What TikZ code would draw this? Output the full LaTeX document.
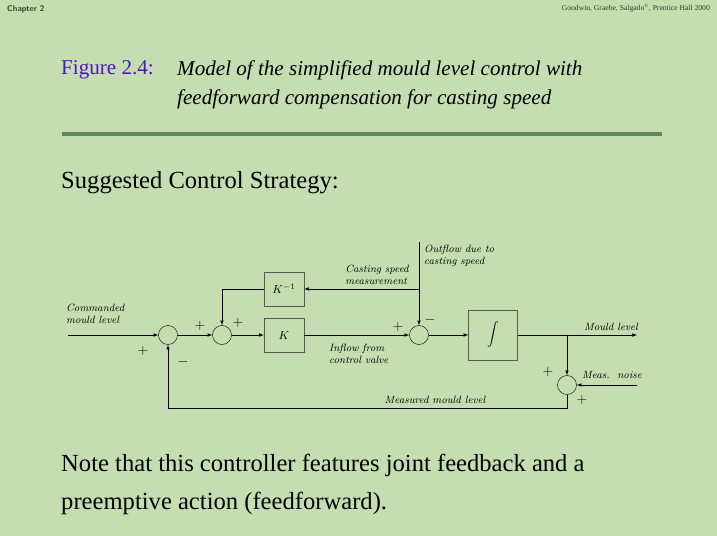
\documentclass[tikz,border=0pt]{standalone}
\usepackage{fontspec}
\setmainfont{Liberation Serif}
\newfontfamily\lmfont{Latin Modern Roman}
\usetikzlibrary{positioning}
\definecolor{bgcol}{RGB}{196,222,178}
\definecolor{rulecol}{RGB}{95,135,95}
\definecolor{figcol}{RGB}{80,20,190}
\definecolor{chapcol}{RGB}{30,70,40}

\begin{document}
\begin{tikzpicture}[x=0.03cm, y=-0.03cm,
    sumnode/.style={circle, draw, minimum size=19*0.03cm, inner sep=0pt},
    blk/.style={draw, gray!70!black, text=black, minimum width=40*0.03cm, minimum height=34*0.03cm, inner sep=0pt},
    lbl/.style={font=\lmfont\itshape\fontsize{9}{10.5}\selectfont, align=left, inner sep=0pt},
    sgn/.style={font=\lmfont\fontsize{12}{12}\selectfont, inner sep=0pt},
    sig/.style={->, >=latex, thin}]

    % Background
    \fill[bgcol] (0,0) rectangle (717,536);
    \useasboundingbox (0,0) rectangle (717,536);

    % Header
    \node[anchor=west, font=\sffamily\bfseries\fontsize{7}{8}\selectfont, text=chapcol] (chap) at (3,9) {Chapter 2};
    \node[anchor=east, font=\fontsize{6.5}{8}\selectfont, text=chapcol] (cred) at (714,8) {Goodwin, Graebe, Salgado\textsuperscript{\textcopyright}, Prentice Hall 2000};
    \node[anchor=north west, font=\fontsize{18}{25}\selectfont, text=figcol, inner sep=0pt] (fig) at (61,60) {Figure 2.4:};
    \node[anchor=north west, font=\fontsize{18}{25}\selectfont\itshape, align=left, inner sep=0pt] (cap) at (177,60)
      {Model of the simplified mould level control with\\feedforward compensation for casting speed};
    \draw[rulecol, line width=3pt] (62,134) -- (662,134);
    \node[anchor=north west, font=\fontsize{21}{26}\selectfont, inner sep=0pt] (sugg) at (61,171) {Suggested Control Strategy:};

    % Blocks
    \node[sumnode] (s1) at (168,335) {};
    \node[sumnode] (s2) at (222,335) {};
    \node[blk] (K) at (284,335) {$K$};
    \node[blk] (Kinv) at (284,289) {$K^{-1}$};
    \node[sumnode] (s3) at (419,335) {};
    \node[blk, minimum width=49*0.03cm, minimum height=50*0.03cm] (int) at (493,335) {$\displaystyle\int$};
    \node[sumnode] (s4) at (567,385) {};

    \coordinate (in) at (68,335);
    \coordinate (out) at (637,335);
    \coordinate (br) at (567,335);
    \coordinate (top) at (419,242);
    \coordinate (tap) at (419,289);
    \coordinate (noise) at (637,385);

    % Connectors
    \draw[sig] (in) -- (s1);
    \draw[sig] (s1) -- (s2);
    \draw[sig] (s2) -- (K);
    \draw[sig] (K) -- (s3);
    \draw[sig] (s3) -- (int);
    \draw[sig] (int) -- (out);
    \draw[sig] (br) -- (s4);
    \draw[sig] (noise) -- (s4);
    \draw[sig] (s4.south) |- (168,408) -- (s1.south);
    \draw[sig] (top) -- (s3);
    \draw[sig] (tap) -- (Kinv);
    \draw[sig] (Kinv.west) -| (s2.north);

    % Labels
    \node[lbl, anchor=north west] (cml) at (66,304) {Commanded\\mould level};
    \node[lbl, anchor=south east] (csm) at (409,285) {Casting speed\\measurement};
    \node[lbl, anchor=south west] (ofl) at (424,267) {Outflow due to\\casting speed};
    \node[lbl, anchor=north west] (ifl) at (329,344) {Inflow from\\control valve};
    \node[lbl, anchor=south east] (mlv) at (638,331) {Mould level};
    \node[lbl, anchor=west] (mns) at (582,375) {Meas.~~noise};
    \node[lbl, anchor=south] (mml) at (435,404) {Measured mould level};

    \node[sgn] at (143,351) {$+$};
    \node[sgn] at (183,362) {$-$};
    \node[sgn] at (200,326) {$+$};
    \node[sgn] at (238,323) {$+$};
    \node[sgn] at (398,327) {$+$};
    \node[sgn] at (430,320) {$-$};
    \node[sgn] at (548,372) {$+$};
    \node[sgn] at (582,400) {$+$};

    % Note
    \node[anchor=north west, font=\fontsize{21}{32}\selectfont, align=left, inner sep=0pt] (note) at (61,454)
      {Note that this controller features joint feedback and a\\preemptive action (feedforward).};
\end{tikzpicture}
\end{document}
